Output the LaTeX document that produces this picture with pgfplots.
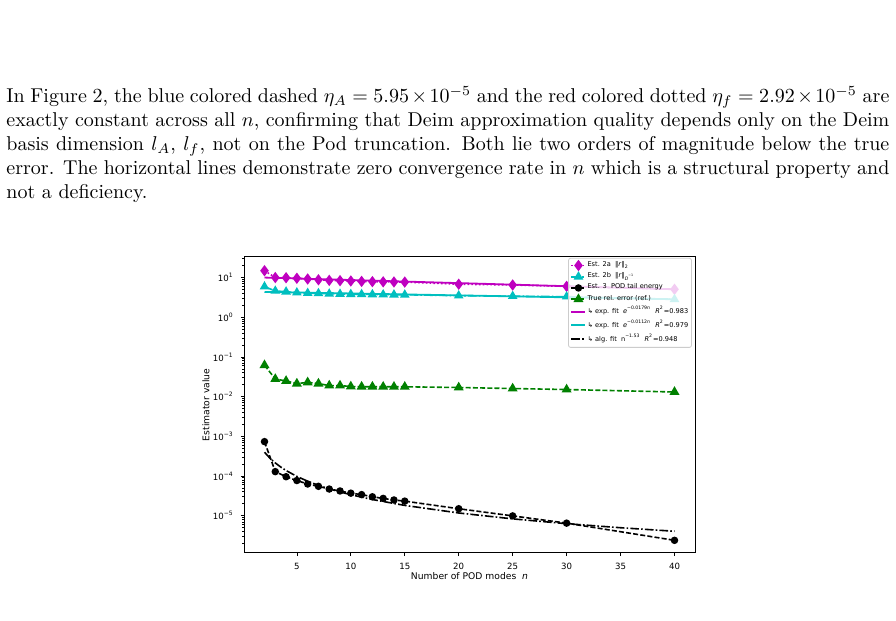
\documentclass[border=0pt]{standalone}
\usepackage{fontspec}
\usepackage{pgfplots}
\pgfplotsset{compat=1.18}
\newfontfamily\dejavu{DejaVu Sans}
\definecolor{mplm}{rgb}{0.75,0,0.75}
\definecolor{mplc}{rgb}{0,0.75,0.75}
\definecolor{mplg}{rgb}{0,0.5,0}
\newcommand\logtick[1]{\pgfmathtruncatemacro\ex{round(#1)}%
  \ifnum\ex<0 10\textsuperscript{−\the\numexpr-\ex\relax}\else 10\textsuperscript{\ex}\fi}

% estimator values versus number of POD modes
\pgfplotstableread{
n    esta   estb   true    estc
2    14.9   5.9    0.062   7.35e-4
3    10.0   4.6    0.0278  1.29e-4
4    9.9    4.4    0.0248  9.6e-5
5    9.6    4.17   0.0213  7.7e-5
6    9.2    4.05   0.0229  6.3e-5
7    8.8    4.0    0.0213  5.5e-5
8    8.5    3.9    0.019   4.7e-5
9    8.35   3.85   0.019   4.2e-5
10   8.2    3.8    0.018   3.7e-5
11   8.0    3.78   0.0178  3.4e-5
12   7.9    3.75   0.0178  3.0e-5
13   7.8    3.72   0.0177  2.73e-5
14   7.75   3.7    0.0177  2.49e-5
15   7.7    3.68   0.0177  2.33e-5
20   6.8    3.5    0.017   1.5e-5
25   6.5    3.4    0.016   9.9e-6
30   6.0    3.3    0.0151  6.5e-6
40   5.07   2.84   0.0131  2.4e-6
}\estdata

% algebraic fit 1.147e-3 * n^(-1.53), tabulated
\pgfplotstableread{
n    y
2    3.972e-4
2.5  2.823e-4
3    2.136e-4
3.5  1.687e-4
4    1.375e-4
5    9.78e-5
6    7.40e-5
7    5.84e-5
8    4.76e-5
9    3.98e-5
10   3.385e-5
12   2.56e-5
15   1.82e-5
20   1.172e-5
25   8.33e-6
30   6.30e-6
35   4.98e-6
40   4.06e-6
}\algfit

\begin{document}
\begin{tikzpicture}
\path[use as bounding box] (0,0) rectangle (448pt,310.5pt);

\node[anchor=base west, inner sep=0pt, text width=441.5pt, align=justify] at (3pt,259.25pt)
{In Figure 2, the blue colored dashed $\eta_A = 5.95\times10^{-5}$ and the red colored dotted $\eta_f = 2.92\times10^{-5}$ are\linebreak
exactly constant across all $n$, confirming that Deim approximation quality depends only on the Deim\linebreak
basis dimension $l_A$, $l_f$, not on the Pod truncation. Both lie two orders of magnitude below the true\linebreak
error. The horizontal lines demonstrate zero convergence rate in $n$ which is a structural property and\linebreak
not a deficiency.};

\begin{axis}[
  at={(122pt,34pt)}, anchor=south west,
  width=225.5pt, height=148pt, scale only axis,
  ymode=log, log basis y=10,
  xmin=0.1, xmax=41.9, ymin=1.15e-6, ymax=33,
  xtick={5,10,...,40},
  tick align=outside, xtick pos=bottom, ytick pos=left,
  major tick length=1.6pt, minor tick length=0.9pt,
  every tick/.style={black, line width=0.35pt},
  axis line style={line width=0.5pt},
  /pgf/number format/assume math mode=true,
  ticklabel style={font=\dejavu\fontsize{4.3}{5}\selectfont},
  yticklabel={\logtick{\tick}},
  xlabel={Number of POD modes\ \ \textit{n}},
  ylabel={Estimator value},
  label style={font=\dejavu\fontsize{4.6}{5.5}\selectfont},
  xlabel style={at={(axis description cs:0.5,0)}, yshift=-11.5pt, anchor=center},
  ylabel style={at={(axis description cs:0,0.5)}, yshift=19pt, anchor=center},
  legend cell align=left,
  legend style={at={(rel axis cs:0.993,0.997)}, anchor=north east,
    font=\dejavu\fontsize{3.3}{4}\selectfont,
    draw=black!20, fill=white, fill opacity=0.8, text opacity=1, draw opacity=1,
    rounded corners=1pt, inner sep=1pt, row sep=0.4pt,
    nodes={inner sep=0.6pt}},
  legend image post style={opacity=1},
  legend image code/.code={\draw[mark repeat=2,mark phase=2,#1] plot coordinates {(0pt,0pt)(3.5pt,0pt)(7pt,0pt)};},
]
\addplot[mplm, line width=0.8pt, dash pattern=on 0.8pt off 1.1pt, mark=diamond*, mark size=2.2pt, mark options={solid}]
  table[x=n, y=esta] {\estdata};
\addlegendentry{Est. 2a\ \ ‖\textit{r}‖\textsubscript{2}}
\addplot[mplc, line width=0.8pt, dash pattern=on 4.3pt off 1.1pt on 0.8pt off 1.1pt, mark=triangle*, mark size=2pt, mark options={solid}]
  table[x=n, y=estb] {\estdata};
\addlegendentry{Est. 2b\ \ ‖\textit{r}‖\textsubscript{\textit{D}\textsuperscript{−1}}}
\addplot[black, line width=0.8pt, dash pattern=on 2.5pt off 1.1pt, mark=*, mark size=1.45pt, mark options={solid}]
  table[x=n, y=estc] {\estdata};
\addlegendentry{Est. 3\ \ POD tail energy}
\addplot[mplg, line width=0.8pt, dash pattern=on 2.5pt off 1.1pt, mark=triangle*, mark size=2.1pt, mark options={solid}]
  table[x=n, y=true] {\estdata};
\addlegendentry{True rel. error (ref.)}
\addplot[mplm, line width=0.9pt] coordinates {(2,10.0) (40,5.07)};
\addlegendentry{↳ exp. fit\ \ \textit{e}\textsuperscript{−0.0179\textit{n}}\ \ \textit{R}\textsuperscript{2}=0.983}
\addplot[mplc, line width=0.9pt] coordinates {(2,4.35) (40,2.84)};
\addlegendentry{↳ exp. fit\ \ \textit{e}\textsuperscript{−0.0112\textit{n}}\ \ \textit{R}\textsuperscript{2}=0.979}
\addplot[black, line width=0.8pt, dash pattern=on 4.3pt off 1.1pt on 0.8pt off 1.1pt] table[x=n, y=y] {\algfit};
\addlegendentry{↳ alg. fit\ \ n\textsuperscript{−1.53}\ \ \textit{R}\textsuperscript{2}=0.948}
\end{axis}
\end{tikzpicture}
\end{document}
